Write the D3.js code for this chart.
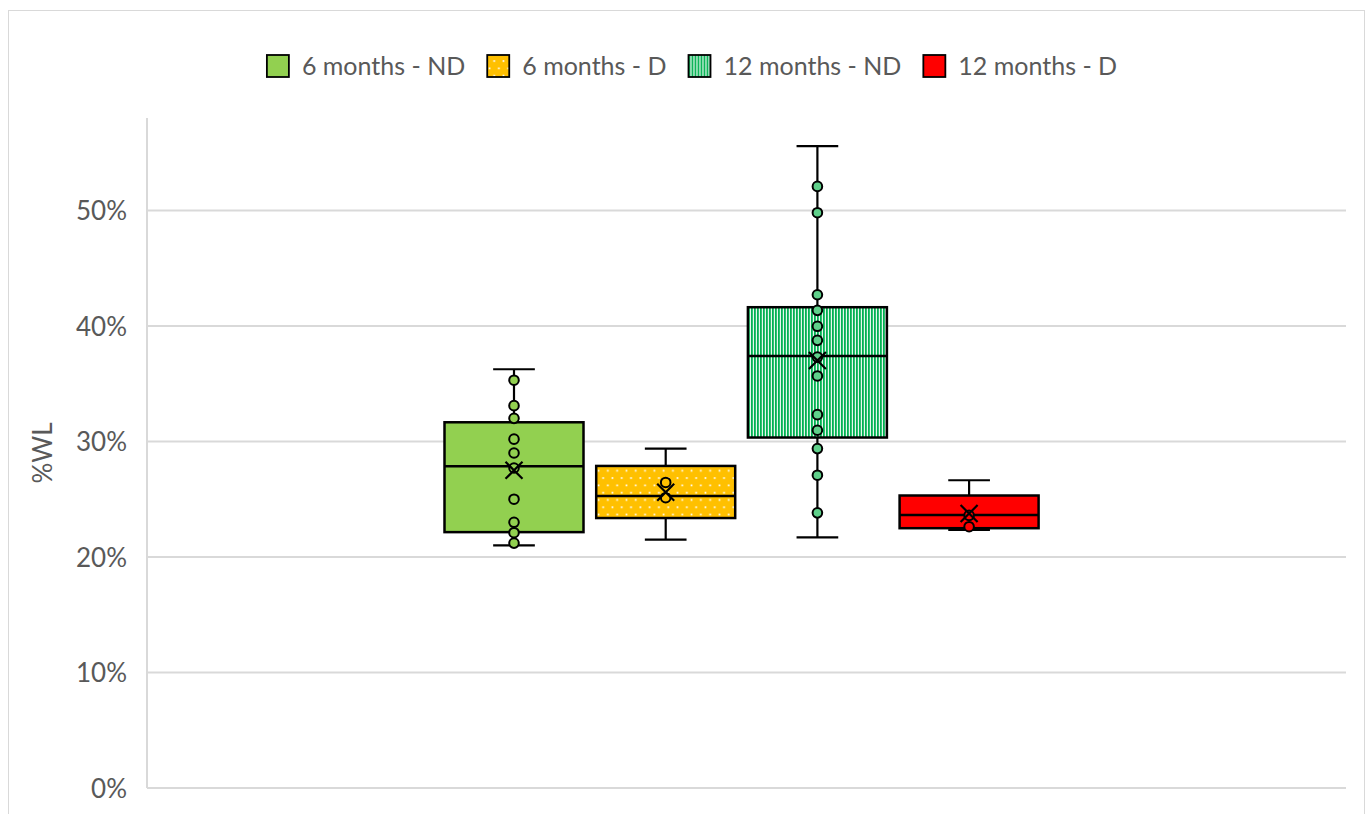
<!DOCTYPE html>
<html>
<head>
<meta charset="utf-8">
<script src="https://cdn.jsdelivr.net/npm/d3@7/dist/d3.min.js"></script>
<style>
  body { margin: 0; background: #fff; }
  text { font-family: Lato, "Open Sans", sans-serif; fill: #595959; }
</style>
</head>
<body>
<div id="chart"></div>
<script>
// series names and colours
var seriesNames = ["6 months - ND", "6 months - D", "12 months - ND", "12 months - D"];
var seriesFills = ["#92D050", "url(#dots)", "url(#stripes)", "#FF0000"];
var pointFills = ["#92D050", "#FFC000", "#5FD08A", "#FF0000"];

// box statistics per series (fractions)
var whiskerLow = [0.210, 0.215, 0.217, 0.2235];
var quart1 = [0.2215, 0.2337, 0.3034, 0.2249];
var median = [0.2785, 0.2528, 0.3739, 0.2364];
var quart3 = [0.3166, 0.2788, 0.4162, 0.2532];
var whiskerHigh = [0.3625, 0.2938, 0.5556, 0.2664];
var means = [0.275, 0.256, 0.370, 0.2376];

// inner points per series
var points = [
    [0.353, 0.331, 0.320, 0.302, 0.290, 0.277, 0.250, 0.230, 0.221, 0.212],
    [0.2645, 0.2513],
    [0.5208, 0.498, 0.427, 0.4135, 0.3997, 0.3875, 0.373, 0.3567, 0.3232, 0.3097, 0.2938, 0.2708, 0.2382],
    [0.236, 0.2262]
];

var yTicks = [0, 0.1, 0.2, 0.3, 0.4, 0.5];

var width = 1368, height = 814;
var margin = {top: 118, right: 22, bottom: 26, left: 147};
var plotW = width - margin.left - margin.right;
var plotH = height - margin.top - margin.bottom;

var svg = d3.select("#chart").append("svg")
    .attr("width", width)
    .attr("height", height);

// patterns
var defs = svg.append("defs");
var dots = defs.append("pattern")
    .attr("id", "dots")
    .attr("patternUnits", "userSpaceOnUse")
    .attr("width", 9.3).attr("height", 14.6);
dots.append("rect").attr("width", 9.3).attr("height", 14.6).attr("fill", "#FFC000");
dots.append("rect").attr("x", 1.5).attr("y", 1.5).attr("width", 1.7).attr("height", 1.7).attr("fill", "#fff");
dots.append("rect").attr("x", 6.1).attr("y", 8.8).attr("width", 1.7).attr("height", 1.7).attr("fill", "#fff");

var stripes = defs.append("pattern")
    .attr("id", "stripes")
    .attr("patternUnits", "userSpaceOnUse")
    .attr("width", 3).attr("height", 10);
stripes.append("rect").attr("width", 3).attr("height", 10).attr("fill", "#fff");
stripes.append("rect").attr("width", 1.9).attr("height", 10).attr("fill", "#00B050");

// chart border
svg.append("rect")
    .attr("x", 8.5).attr("y", 10.5)
    .attr("width", 1356).attr("height", 810)
    .attr("fill", "none")
    .attr("stroke", "#D9D9D9")
    .attr("stroke-width", 1);

var g = svg.append("g").attr("transform", "translate(" + margin.left + "," + margin.top + ")");

var y = d3.scaleLinear().domain([0, 0.58]).range([plotH, 0]);

// one category, four series side by side
var x = d3.scaleBand().domain(["cat"]).range([0, plotW]);
var xSub = d3.scaleBand().domain(d3.range(4))
    .range([x("cat") + 297.5, x("cat") + 297.5 + 594.1])
    .paddingInner(0.0837);

// gridlines
g.selectAll(".grid").data(yTicks.slice(1)).enter().append("line")
    .attr("x1", 0).attr("x2", plotW)
    .attr("y1", function(d){ return y(d); })
    .attr("y2", function(d){ return y(d); })
    .attr("stroke", "#D9D9D9").attr("stroke-width", 2);

// axes lines
g.append("line").attr("x1", 0).attr("x2", plotW).attr("y1", plotH).attr("y2", plotH)
    .attr("stroke", "#D9D9D9").attr("stroke-width", 2);
g.append("line").attr("x1", 0).attr("x2", 0).attr("y1", 0).attr("y2", plotH)
    .attr("stroke", "#D9D9D9").attr("stroke-width", 2);

// tick labels
var yAxis = d3.axisLeft(y).tickValues(yTicks).tickFormat(d3.format(".0%")).tickSize(0).tickPadding(20);
var ax = g.append("g").call(yAxis);
ax.select(".domain").remove();
ax.selectAll("text").style("font-size", "26px").attr("fill", "#595959").attr("dy", "0.36em");

// y axis title
svg.append("text")
    .attr("transform", "translate(52," + (margin.top + plotH / 2) + ") rotate(-90)")
    .attr("text-anchor", "middle")
    .style("font-size", "26px")
    .text("%WL");

// boxes
var idx = d3.range(4);
var bw = xSub.bandwidth();
var capW = bw * 0.3;

var boxes = g.selectAll(".box").data(idx).enter().append("g")
    .attr("transform", function(i){ return "translate(" + xSub(i) + ",0)"; });

// whisker stem
boxes.append("line")
    .attr("x1", bw / 2).attr("x2", bw / 2)
    .attr("y1", function(i){ return y(whiskerHigh[i]); })
    .attr("y2", function(i){ return y(whiskerLow[i]); })
    .attr("stroke", "#000").attr("stroke-width", 2.2);

// caps
[whiskerHigh, whiskerLow].forEach(function(arr){
    boxes.append("line")
        .attr("x1", bw / 2 - capW / 2).attr("x2", bw / 2 + capW / 2)
        .attr("y1", function(i){ return y(arr[i]); })
        .attr("y2", function(i){ return y(arr[i]); })
        .attr("stroke", "#000").attr("stroke-width", 2.2);
});

boxes.append("rect")
    .attr("x", 0).attr("width", bw)
    .attr("y", function(i){ return y(quart3[i]); })
    .attr("height", function(i){ return y(quart1[i]) - y(quart3[i]); })
    .attr("fill", function(i){ return seriesFills[i]; })
    .attr("stroke", "#000").attr("stroke-width", 2.5);

boxes.append("line")
    .attr("x1", 0).attr("x2", bw)
    .attr("y1", function(i){ return y(median[i]); })
    .attr("y2", function(i){ return y(median[i]); })
    .attr("stroke", "#000").attr("stroke-width", 2.5);

// points
boxes.selectAll("circle").data(function(i){
    return points[i].map(function(v){ return {i: i, v: v}; });
}).enter().append("circle")
    .attr("cx", bw / 2)
    .attr("cy", function(d){ return y(d.v); })
    .attr("r", 4.8)
    .attr("fill", function(d){ return pointFills[d.i]; })
    .attr("stroke", "#000").attr("stroke-width", 2);

// mean marker
var m = 8.5;
boxes.append("path")
    .attr("d", function(i){
        var cy = y(means[i]), cx = bw / 2;
        return "M" + (cx - m) + "," + (cy - m) + "L" + (cx + m) + "," + (cy + m) +
               "M" + (cx - m) + "," + (cy + m) + "L" + (cx + m) + "," + (cy - m);
    })
    .attr("stroke", "#000").attr("stroke-width", 2.2).attr("fill", "none");

// legend
var legend = svg.append("g");
var lx = 0;
seriesNames.forEach(function(name, i){
    var item = legend.append("g").attr("transform", "translate(" + lx + ",0)");
    item.append("rect")
        .attr("x", 0).attr("y", -11).attr("width", 22).attr("height", 22)
        .attr("fill", seriesFills[i]).attr("stroke", "#000").attr("stroke-width", 1.8);
    var t = item.append("text")
        .attr("x", 35).attr("y", 0).attr("dy", "0.36em")
        .style("font-size", "25px")
        .text(name);
    lx += 35 + t.node().getComputedTextLength() + 22;
});
lx -= 22;
legend.attr("transform", "translate(" + ((width - lx) / 2 + 8) + ",66)");
</script>
</body>
</html>
